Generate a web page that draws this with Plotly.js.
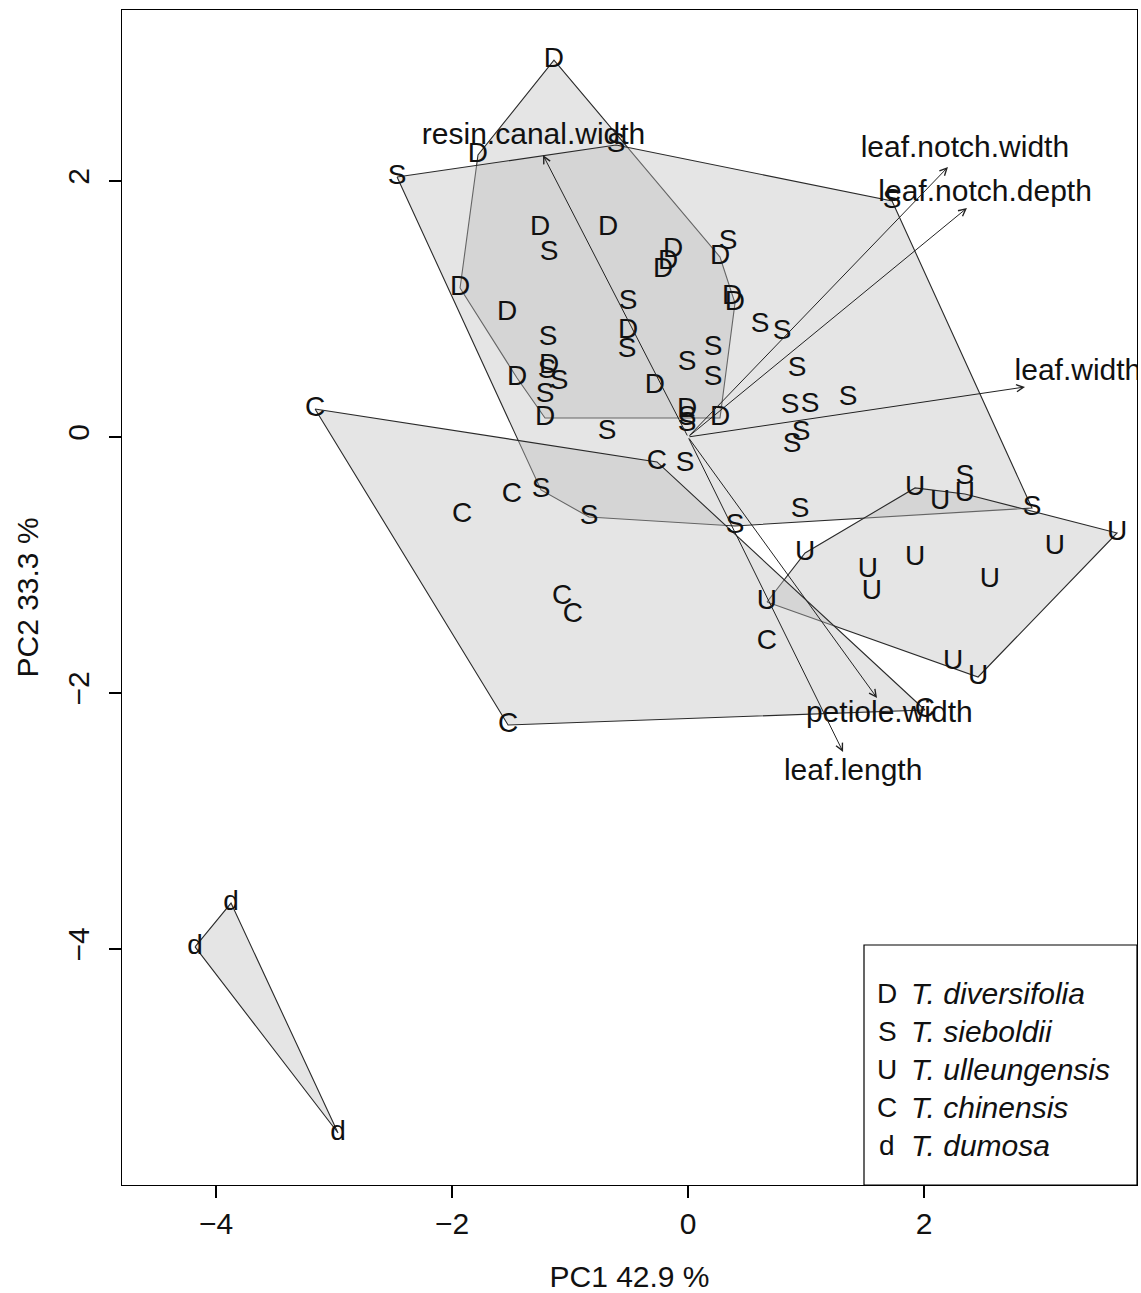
<!DOCTYPE html>
<html><head><meta charset="utf-8">
<script src="https://cdn.plot.ly/plotly-3.0.1.min.js"></script>
<style>html,body{margin:0;padding:0;background:#fff}</style>
</head><body><div id="chart" style="width:1141px;height:1293px"></div>
<script>
// ---------------- DATA ----------------
const speciesCodes = ['D', 'S', 'U', 'C', 'd'];
const speciesNames = ['T. diversifolia', 'T. sieboldii', 'T. ulleungensis', 'T. chinensis', 'T. dumosa'];

const diversifoliaPC1 = [-1.136, -1.780, -1.254, -0.678, -0.127, -0.169, -0.212, 0.271, 0.373, 0.398, -1.932, -1.534, -0.508, -1.178, -1.449, -1.212, -0.280, -0.008, 0.271];
const diversifoliaPC2 = [2.945, 2.203, 1.633, 1.633, 1.461, 1.367, 1.305, 1.406, 1.094, 1.047, 1.164, 0.969, 0.828, 0.555, 0.461, 0.148, 0.398, 0.211, 0.148];

const sieboldiiPC1 = [-2.466, -0.610, 0.339, -1.178, -0.508, -1.186, -0.517, 0.212, -0.008, 0.212, -1.093, -1.212, -1.195, -0.686, -0.008, -0.008, 0.610, 0.797, 0.924, 0.864, 1.034, 1.356, 0.958, 0.881, -0.025, -1.246, -0.839, 0.398, 0.949, 1.729, 2.347, 2.915];
const sieboldiiPC2 = [2.031, 2.281, 1.523, 1.438, 1.055, 0.773, 0.680, 0.695, 0.578, 0.461, 0.430, 0.328, 0.516, 0.039, 0.148, 0.102, 0.875, 0.820, 0.531, 0.242, 0.250, 0.305, 0.031, -0.063, -0.211, -0.414, -0.625, -0.695, -0.570, 1.844, -0.313, -0.555];

const ulleungensisPC1 = [1.924, 2.136, 2.347, 3.636, 3.110, 0.992, 1.924, 1.525, 1.559, 2.559, 0.669, 2.246, 2.458];
const ulleungensisPC2 = [-0.398, -0.508, -0.445, -0.750, -0.859, -0.906, -0.945, -1.039, -1.211, -1.117, -1.289, -1.758, -1.875];

const chinensisPC1 = [-3.161, -1.915, -1.492, -0.263, -1.068, -0.975, -1.525, 0.669, 2.008];
const chinensisPC2 = [0.219, -0.609, -0.453, -0.195, -1.250, -1.391, -2.250, -1.602, -2.133];

const dumosaPC1 = [-3.873, -4.178, -2.966];
const dumosaPC2 = [-3.641, -3.984, -5.438];

const loadingNames = ['resin.canal.width', 'leaf.notch.width', 'leaf.notch.depth', 'leaf.width', 'petiole.width', 'leaf.length'];
const loadingPC1 = [-1.229, 2.203, 2.364, 2.856, 1.602, 1.314];
const loadingPC2 = [2.203, 2.109, 1.789, 0.391, -2.039, -2.461];

const xAxisTitle = 'PC1 42.9 %';
const yAxisTitle = 'PC2 33.3 %';
const xTicks = [-4, -2, 0, 2];
const yTicks = [-4, -2, 0, 2];

// ---------------- BUILD ----------------
const groupsX = [diversifoliaPC1, sieboldiiPC1, ulleungensisPC1, chinensisPC1, dumosaPC1];
const groupsY = [diversifoliaPC2, sieboldiiPC2, ulleungensisPC2, chinensisPC2, dumosaPC2];

function convexHull(xs, ys) {
  const pts = xs.map((x, i) => [x, ys[i]]).sort((a, b) => a[0] - b[0] || a[1] - b[1]);
  const cross = (o, a, b) => (a[0] - o[0]) * (b[1] - o[1]) - (a[1] - o[1]) * (b[0] - o[0]);
  const lower = [];
  for (const p of pts) { while (lower.length >= 2 && cross(lower[lower.length - 2], lower[lower.length - 1], p) <= 0) lower.pop(); lower.push(p); }
  const upper = [];
  for (let i = pts.length - 1; i >= 0; i--) { const p = pts[i]; while (upper.length >= 2 && cross(upper[upper.length - 2], upper[upper.length - 1], p) <= 0) upper.pop(); upper.push(p); }
  upper.pop(); lower.pop();
  const h = lower.concat(upper);
  h.push(h[0]);
  return h;
}

const FONT = 'Liberation Sans, Arial, Helvetica, sans-serif';
const traces = [];
groupsX.forEach((gx, i) => {
  const h = convexHull(gx, groupsY[i]);
  traces.push({
    type: 'scatter', mode: 'lines', x: h.map(p => p[0]), y: h.map(p => p[1]),
    fill: 'toself', fillcolor: 'rgba(190,190,190,0.4)',
    line: {color: '#2a2a2a', width: 1.1}, hoverinfo: 'skip', showlegend: false
  });
});
groupsX.forEach((gx, i) => {
  traces.push({
    type: 'scatter', mode: 'text', x: gx, y: groupsY[i],
    text: gx.map(() => speciesCodes[i]), textposition: 'middle center',
    textfont: {family: FONT, size: 28, color: '#111'}, hoverinfo: 'skip', showlegend: false
  });
});
// loading labels (clipped to plot area like the original)
const labelFactor = loadingNames.map(n => n === 'leaf.width' ? [1.157, 1.279] : [1.065, 1.065]);
traces.push({
  type: 'scatter', mode: 'text', cliponaxis: true,
  x: loadingPC1.map((v, i) => v * labelFactor[i][0]),
  y: loadingPC2.map((v, i) => v * labelFactor[i][1]),
  text: loadingNames, textposition: 'middle center',
  textfont: {family: FONT, size: 30, color: '#111'}, hoverinfo: 'skip', showlegend: false
});

const annotations = [];
loadingNames.forEach((n, i) => {
  annotations.push({
    x: loadingPC1[i], y: loadingPC2[i], ax: 0, ay: 0,
    xref: 'x', yref: 'y', axref: 'x', ayref: 'y',
    text: '', showarrow: true, arrowhead: 5, arrowsize: 1.4, arrowwidth: 1,
    arrowcolor: '#222', standoff: 0
  });
});

// legend (R-style box at bottom right)
const legX0 = (864 - 122) / 1015, legY1 = (1185 - 945) / 1175;
const rowTop = (1185 - 993) / 1175, rowStep = 38 / 1175;
speciesCodes.forEach((c, i) => {
  const y = rowTop - i * rowStep;
  annotations.push({xref: 'paper', yref: 'paper', x: (887 - 122) / 1015, y: y, xanchor: 'center', yanchor: 'middle',
    text: c, showarrow: false, font: {family: FONT, size: 28, color: '#111'}});
  annotations.push({xref: 'paper', yref: 'paper', x: (909 - 122) / 1015, y: y, xanchor: 'left', yanchor: 'middle',
    text: '<i>' + speciesNames[i] + '</i>', showarrow: false, font: {family: FONT, size: 30, color: '#111'}});
});

const axisCommon = {
  showline: true, mirror: true, linecolor: '#000', linewidth: 1.2,
  ticks: 'outside', ticklen: 12, tickwidth: 1.2, tickcolor: '#000',
  showgrid: false, zeroline: false, tickfont: {family: FONT, size: 30, color: '#111'},
  tickmode: 'array'
};

const layout = {
  width: 1141, height: 1293,
  margin: {l: 122, r: 4, t: 10, b: 108},
  paper_bgcolor: '#fff', plot_bgcolor: '#fff',
  font: {family: FONT, color: '#111'},
  showlegend: false,
  xaxis: Object.assign({}, axisCommon, {
    range: [-4.797, 3.805], tickvals: xTicks, ticklabelstandoff: 0,
    title: {text: xAxisTitle, font: {family: FONT, size: 30, color: '#111'}, standoff: 32}
  }),
  yaxis: Object.assign({}, axisCommon, {
    range: [-5.844, 3.336], tickvals: yTicks, tickangle: -90, ticklabelstandoff: 8,
    title: {text: yAxisTitle, font: {family: FONT, size: 30, color: '#111'}, standoff: 14}
  }),
  shapes: [{type: 'rect', xref: 'paper', yref: 'paper', x0: legX0, x1: 1, y0: 0, y1: legY1,
    line: {color: '#000', width: 1.2}, fillcolor: '#fff', layer: 'above'}],
  annotations: annotations
};

Plotly.newPlot('chart', traces, layout, {displayModeBar: false, staticPlot: true});
</script>
</body></html>
